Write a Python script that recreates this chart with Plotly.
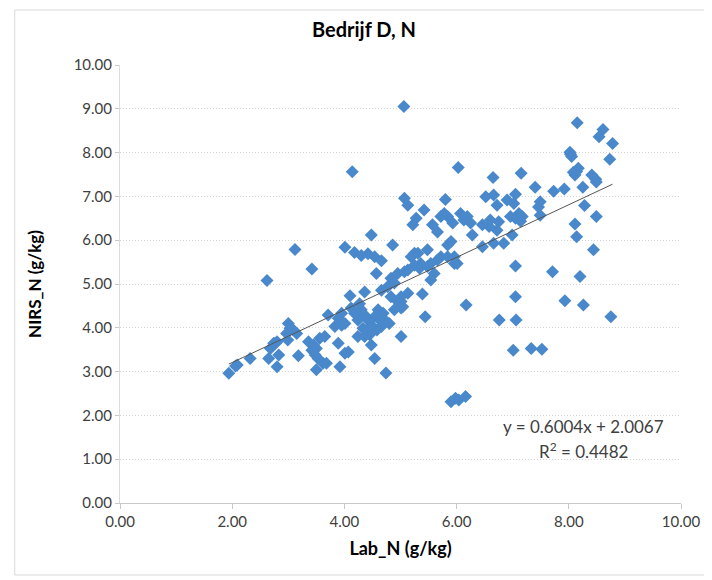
import plotly.graph_objects as go

title_text = "Bedrijf D, N"
x_title = "Lab_N (g/kg)"
y_title = "NIRS_N (g/kg)"
tick_vals = [0, 2, 4, 6, 8, 10]
tick_text = ["0.00", "2.00", "4.00", "6.00", "8.00", "10.00"]
y_tick_vals = [0, 1, 2, 3, 4, 5, 6, 7, 8, 9, 10]
y_tick_text = ["0.00", "1.00", "2.00", "3.00", "4.00", "5.00", "6.00", "7.00", "8.00", "9.00", "10.00"]

lab_n = [
    5.06, 8.15, 8.61, 8.54, 8.78, 8.03, 8.02, 8.05, 8.73, 6.03,
    7.15, 6.65, 8.14, 8.11, 8.41, 8.48, 7.40, 7.73, 7.92, 8.25,
    5.07, 5.13, 5.80, 5.42, 6.52, 6.66, 6.72, 6.90, 7.05, 7.02,
    7.49, 7.46, 8.28, 8.49, 8.11, 8.14, 8.44, 7.49, 7.11, 7.05,
    7.17, 6.96, 5.78, 5.72, 5.84, 5.22, 5.28, 5.57, 5.66, 6.07,
    6.13, 6.25, 6.19, 5.93, 6.28, 6.46, 6.58, 6.75, 6.72, 6.84,
    5.90, 5.84, 6.46, 6.66, 6.99, 5.25, 5.48, 5.72, 5.84, 7.05,
    7.71, 8.20, 7.05, 7.93, 8.26, 8.75, 6.17, 6.76, 7.06, 7.01,
    7.33, 7.52, 5.90, 6.04, 6.16, 5.98, 5.44, 5.39, 5.13, 5.01,
    5.54, 6.01, 5.01, 5.04, 4.48, 3.12, 4.01, 4.86, 3.42, 2.62,
    4.14, 4.18, 4.30, 4.42, 4.54, 4.66, 4.57, 4.10, 4.36, 4.66,
    4.77, 4.83, 4.95, 5.07, 5.19, 5.31, 5.54, 5.66, 5.60, 5.25,
    5.34, 5.48, 4.95, 5.01, 4.89, 4.83, 5.01, 3.71, 3.95, 3.89,
    3.95, 4.01, 4.18, 4.24, 4.30, 4.36, 4.42, 4.48, 4.33, 4.39,
    4.45, 4.36, 4.24, 4.48, 4.60, 4.69, 4.72, 4.66, 4.80, 4.63,
    4.54, 4.54, 4.74, 3.00, 3.03, 3.09, 2.97, 3.15, 2.99, 2.77,
    2.68, 2.83, 2.65, 2.32, 2.09, 1.94, 2.80, 3.18, 3.36, 3.45,
    3.50, 3.42, 3.56, 3.65, 3.48, 3.53, 3.62, 3.50, 3.68, 3.89,
    4.01, 4.07, 3.92, 5.96, 7.14, 6.60, 2.06, 2.74, 2.80, 3.83,
    4.89, 5.13, 5.36, 5.96, 8.17, 8.08, 8.49, 4.27, 4.12, 4.58,
]
nirs_n = [
    9.05, 8.68, 8.53, 8.36, 8.21, 7.96, 8.01, 7.91, 7.85, 7.66,
    7.53, 7.43, 7.57, 7.49, 7.49, 7.39, 7.21, 7.12, 7.17, 7.21,
    6.96, 6.80, 6.93, 6.69, 6.99, 7.03, 6.80, 6.92, 7.05, 6.84,
    6.88, 6.76, 6.79, 6.54, 6.37, 6.08, 5.78, 6.57, 6.61, 6.50,
    6.54, 6.54, 6.61, 6.54, 6.54, 6.35, 6.50, 6.35, 6.19, 6.61,
    6.46, 6.39, 6.54, 6.39, 6.12, 6.35, 6.31, 6.42, 6.23, 5.93,
    5.97, 5.89, 5.85, 5.93, 6.12, 5.70, 5.78, 5.62, 5.62, 5.41,
    5.28, 5.17, 4.71, 4.62, 4.52, 4.25, 4.52, 4.18, 4.18, 3.49,
    3.53, 3.51, 2.31, 2.35, 2.43, 2.39, 4.25, 4.77, 4.79, 3.80,
    5.09, 5.47, 4.60, 4.48, 6.12, 5.79, 5.84, 5.89, 5.34, 5.08,
    7.56, 5.72, 5.65, 5.69, 5.62, 5.53, 5.24, 4.73, 4.82, 4.86,
    4.94, 5.13, 5.24, 5.28, 5.62, 5.70, 5.47, 5.55, 5.24, 5.43,
    5.36, 5.40, 4.60, 4.45, 4.41, 4.71, 4.71, 4.29, 4.33, 4.22,
    4.06, 4.10, 4.33, 4.18, 4.41, 4.29, 4.18, 4.06, 3.99, 3.91,
    3.84, 3.80, 3.80, 3.61, 4.41, 4.33, 4.18, 4.03, 4.10, 4.18,
    4.25, 3.30, 2.97, 4.10, 3.99, 3.95, 3.87, 3.87, 3.72, 3.65,
    3.53, 3.38, 3.30, 3.30, 3.15, 2.96, 3.11, 3.36, 3.68, 3.61,
    3.53, 3.49, 3.76, 3.80, 3.38, 3.30, 3.19, 3.04, 3.19, 3.65,
    3.42, 3.45, 3.11, 5.47, 6.43, 6.46, 3.13, 3.65, 3.68, 4.03,
    5.02, 5.32, 5.47, 5.62, 7.64, 7.55, 7.33, 4.55, 4.45, 3.95,
]

slope = 0.6004
intercept = 2.0067
r_squared = 0.4482

trend_x = [min(lab_n), max(lab_n)]
trend_y = [slope * v + intercept for v in trend_x]

FONT = "Lato"
TXT = "#404040"

# page body has an 8px margin: figure is sized/offset to compensate
W, H = 704, 572
ML, MT, PW, PH = 112, 57, 565, 438

fx = lambda px: (px - ML) / PW           # figure px -> paper x
fy = lambda py: (MT + PH - py) / PH      # figure px -> paper y
BORDER = dict(color="#d9d9d9", width=1)

fig = go.Figure()
fig.add_trace(go.Scatter(
    x=lab_n, y=nirs_n, mode="markers",
    marker=dict(symbol="diamond", size=10, color="#4a88cc", line=dict(width=0)),
    showlegend=False, hoverinfo="x+y",
))
fig.add_trace(go.Scatter(
    x=trend_x, y=trend_y, mode="lines",
    line=dict(color="#555555", width=1),
    showlegend=False, hoverinfo="skip",
))

fig.update_layout(
    width=W, height=H,
    paper_bgcolor="white", plot_bgcolor="white",
    margin=dict(l=ML, r=W - ML - PW, t=MT, b=H - MT - PH),
    font=dict(family=FONT, size=15, color=TXT),
    title=dict(text="<b>" + title_text + "</b>", x=(364 - 8) / W, xanchor="center",
               y=1 - 22 / H, yanchor="middle",
               font=dict(family=FONT, size=20, color="#000000")),
    xaxis=dict(
        range=[0, 10], tickvals=tick_vals, ticktext=tick_text,
        showgrid=False, zeroline=False,
        showline=True, linecolor="#c8c8c8", linewidth=1,
        ticks="outside", ticklen=5, tickcolor="#c8c8c8",
        tickfont=dict(family=FONT, size=15, color=TXT),
        title=dict(text="<b>" + x_title + "</b>", standoff=13,
                   font=dict(family=FONT, size=18, color="#000000")),
    ),
    yaxis=dict(
        range=[0, 10], tickvals=y_tick_vals, ticktext=y_tick_text,
        showgrid=True, gridcolor="#d4d4d4", griddash="1px,2px", gridwidth=1,
        zeroline=False,
        showline=True, linecolor="#dcdcdc", linewidth=1,
        ticks="outside", ticklen=4, tickcolor="#c8c8c8",
        tickfont=dict(family=FONT, size=15, color=TXT),
        title=dict(text="<b>" + y_title + "</b>", standoff=27,
                   font=dict(family=FONT, size=17, color="#000000")),
    ),
    annotations=[
        dict(x=8.27, y=1.74, xref="x", yref="y", showarrow=False,
             text="y = %.4fx + %.4f" % (slope, intercept),
             font=dict(family=FONT, size=17, color=TXT)),
        dict(x=8.27, y=1.21, xref="x", yref="y", showarrow=False,
             text="R<sup>2</sup> = %.4f" % r_squared,
             font=dict(family=FONT, size=17, color=TXT)),
    ],
    shapes=[
        dict(type="line", xref="paper", yref="paper",
             x0=fx(6), x1=fx(6), y0=fy(567), y1=fy(2), line=BORDER, layer="below"),
        dict(type="line", xref="paper", yref="paper",
             x0=fx(6), x1=fx(W), y0=fy(2), y1=fy(2), line=BORDER, layer="below"),
        dict(type="line", xref="paper", yref="paper",
             x0=fx(6), x1=fx(W), y0=fy(567), y1=fy(567), line=BORDER, layer="below"),
    ],
)

fig.write_html("out.html")
